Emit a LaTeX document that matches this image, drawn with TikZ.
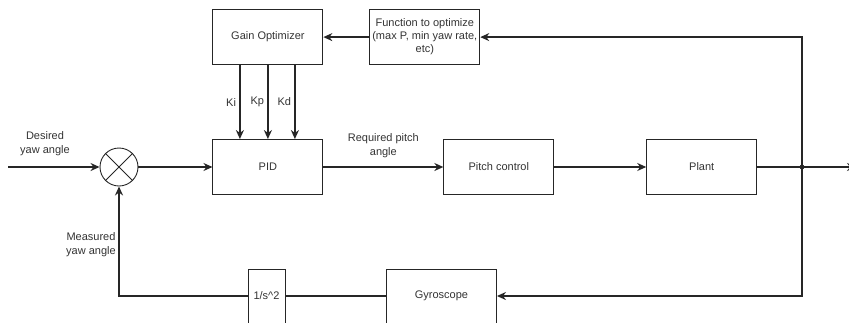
\documentclass[tikz,border=0pt]{standalone}
\usepackage{fontspec}
\setmainfont{Liberation Sans}
\usepackage{tikz}
\usetikzlibrary{arrows.meta,positioning,calc}
\definecolor{bdInk}{HTML}{262626}
\definecolor{bdText}{HTML}{333333}
\tikzset{
  blk/.style={rectangle,draw=bdInk,line width=0.9pt,
    minimum width=110pt,minimum height=55pt,inner sep=2pt,
    align=center,font=\fontsize{11}{13}\selectfont,text=bdText},
  sumblk/.style={circle,draw=bdInk,line width=0.9pt,
    minimum size=38pt,inner sep=0pt},
  arr/.style={-{Stealth[length=9pt,width=8pt]},line width=1.8pt,color=bdInk},
  wire/.style={line width=1.8pt,color=bdInk},
  lbl/.style={font=\fontsize{11}{14}\selectfont,text=bdText,align=center,inner sep=0pt},
}

\begin{document}
\begin{tikzpicture}[x=1pt,y=-1pt]
  \useasboundingbox (0,0) rectangle (849,322);
  \clip (0,0) rectangle (849,322);

  % forward path
  \node[sumblk] (sum) at (119,167) {};
  \draw[bdInk,line width=0.9pt] (sum.45) -- (sum.225) (sum.135) -- (sum.315);
  \node[blk,right=74pt of sum] (pid) {PID};
  \node[blk,right=120pt of pid] (pitch) {Pitch control};
  \node[blk,right=92pt of pitch] (plant) {Plant};

  % gain tuning loop
  \node[blk,above=74pt of pid] (gain) {Gain Optimizer};
  \node[blk,right=46pt of gain] (func)
    {Function to optimize\\(max P, min yaw rate,\\etc)};

  % feedback sensors
  \node[blk,minimum width=37pt,minimum height=54pt] (inv) at (266.5,296) {1/s\^{}2};
  \node[blk,minimum height=54pt] (gyro) at (441.5,296) {Gyroscope};

  \coordinate (in) at (8,167);
  \coordinate (tap) at (802,167);
  \coordinate (out) at (856,167);
  \coordinate (ret) at (119,296);

  \draw[arr] (in) -- (sum.west);
  \draw[arr] (sum) -- (pid);
  \draw[arr] (pid) -- node[lbl,above=8pt] {Required pitch\\angle} (pitch);
  \draw[arr] (pitch) -- (plant);
  \draw[wire] (plant) -- (tap);
  \draw[arr] (tap) -- (out);
  \fill[bdInk] (tap) circle (2.4);

  \draw[arr] (tap) |- (func.east);
  \draw[arr] (func) -- (gain);
  \draw[arr] ([xshift=-28pt]gain.south) -- node[lbl,left=3pt] {Ki} ([xshift=-28pt]pid.north);
  \draw[arr] (gain.south) -- node[lbl,left=3pt] {Kp} (pid.north);
  \draw[arr] ([xshift=27pt]gain.south) -- node[lbl,left=3pt] {Kd} ([xshift=27pt]pid.north);

  \draw[arr] (tap) |- (gyro.east);
  \draw[wire] (gyro) -- (inv);
  \draw[arr] (inv.west) -- (ret) -- (sum.south);

  \node[lbl] (desired) at (45,144) {Desired\\yaw angle};
  \node[lbl] (measured) at (91,245) {Measured\\yaw angle};
\end{tikzpicture}
\end{document}
